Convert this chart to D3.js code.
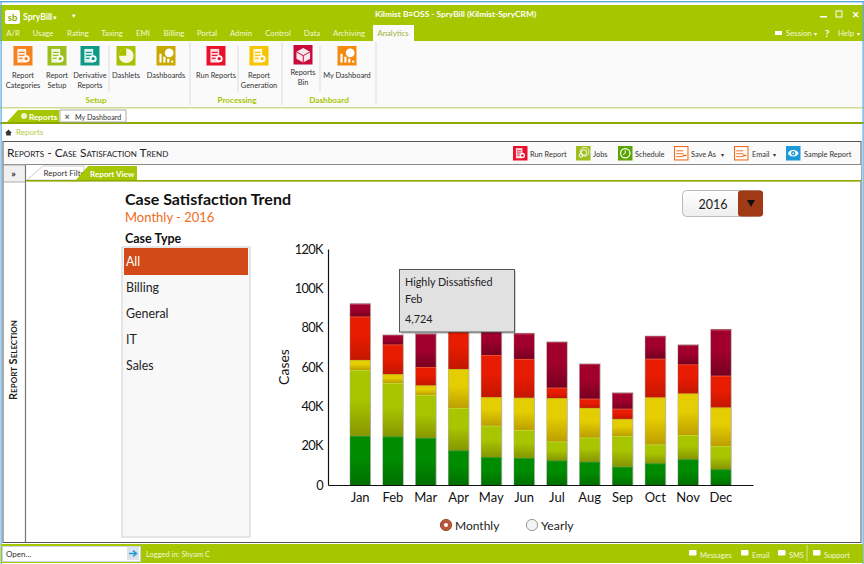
<!DOCTYPE html>
<html><head><meta charset="utf-8">
<style>html,body{margin:0;padding:0;background:#fff;overflow:hidden}svg{display:block}text{font-family:Lato,"Noto Sans",sans-serif}</style>
<script src="https://cdn.jsdelivr.net/npm/d3@7/dist/d3.min.js"></script>
</head><body><svg id="c" width="864" height="564" viewBox="0 0 864 564"></svg>
<script>
const months=["Jan","Feb","Mar","Apr","May","Jun","Jul","Aug","Sep","Oct","Nov","Dec"];
const seriesNames=["Highly Satisfied","Satisfied","Neutral","Dissatisfied","Highly Dissatisfied"];
const highlySatisfied=[25000,24700,24000,17600,14200,13800,12500,11900,9300,11000,13100,8000];
const satisfied=[33500,27200,21800,21600,16000,14200,9700,12300,15600,9700,12300,11800];
const neutral=[5100,4500,4900,19800,14500,16400,22000,15000,8700,23900,21200,19700];
const dissatisfied=[22100,15100,9300,22000,21400,19700,5300,4700,5200,19600,14800,16100];
const highlyDissatisfied=[6400,4724,16800,9000,16000,12900,23200,17600,8000,11400,9800,23400];
const yTicks=[0,20000,40000,60000,80000,100000,120000];
const caseTypes=["All","Billing","General","IT","Sales"];
const menuTabs=["A/R","Usage","Rating","Taxing","EMI","Billing","Portal","Admin","Control","Data","Archiving"];
const ribbonLabels=[["Report","Categories"],["Report","Setup"],["Derivative","Reports"],["Dashlets"],["Dashboards"],["Run Reports"],["Report","Generation"],["Reports","Bin"],["My Dashboard"]];
const ribbonGroups=["Setup","Processing","Dashboard"];
const toolbarLabels=["Run Report","Jobs","Schedule","Save As","Email","Sample Report"];
const statusLabels=["Messages","Email","SMS","Support"];

/* colours and chrome layout, kept apart from the content above */
const seriesColors=[["#008c00","#006f00","#2f9a2f"],["#a8c600","#879600","#c4d432"],["#e4cd00","#bd9f00","#c9b820"],["#e81c00","#c41600","#f04a30"],["#a2002c","#780020","#b83a58"]];
const menuX=[13,43,78,112,143,174,207,241,278,312,349];
const ribbonX=[23,57,90,126,166,216,259,303,347];
const ribbonColors=["#f58220","#9dbf1e","#0f9a86","#a8c000","#c9a800","#e8102a","#f7c400","#c80a3c","#f58a10"];
const ribbonGlyph=["doc","doc","doc","pie","chart","doc","doc","box","chart"];
const groupX=[96,237,329];
const toolIconX=[513,576,618,674,734,786];
const toolTextX=[530,593,635,691,752,804];
const toolColors=["#e8102a","#9dbf1e","#5aa500","#f26b1d","#f26b1d","#1e9ad6"];
const toolGlyph=["doc","arc","clock","save","save","eye"];
const statusX=[700,752,789,824];

const GREEN="#a6c600";
const svg=d3.select("#c");
const defs=svg.append("defs");
function rect(x,y,w,h,fill,stroke,rx,g){const r=(g||svg).append("rect").attr("x",x).attr("y",y).attr("width",w).attr("height",h).attr("fill",fill||"none");if(stroke)r.attr("stroke",stroke);if(rx)r.attr("rx",rx);return r;}
function text(t,x,y,size,fill,opt){opt=opt||{};const e=(opt.g||svg).append("text").attr("x",x).attr("y",y).attr("font-size",size).attr("fill",fill||"#222").text(t);if(opt.anchor)e.attr("text-anchor",opt.anchor);if(opt.bold)e.attr("font-weight","bold");if(opt.sc)e.style("font-variant","small-caps");return e;}
function line(x1,y1,x2,y2,c,w){return svg.append("line").attr("x1",x1).attr("y1",y1).attr("x2",x2).attr("y2",y2).attr("stroke",c).attr("stroke-width",w||1);}
function circ(x,y,r,fill,stroke,sw){const c=svg.append("circle").attr("cx",x).attr("cy",y).attr("r",r).attr("fill",fill||"none");if(stroke)c.attr("stroke",stroke).attr("stroke-width",sw||1);return c;}
function glyph(kind,x,y,s,col){ // x,y = top-left of the s-sized tile
  const cx=x+s/2,cy=y+s/2,u=s/20;
  if(kind==="doc"){rect(x+4*u,y+3*u,9*u,14*u,"#fff").attr("opacity",.85);[6,9,12].forEach(o=>rect(x+5.5*u,y+o*u,6*u,1.2*u,col));circ(x+13*u,y+13*u,3.6*u,"#fff");circ(x+13*u,y+13*u,1.7*u,col);}
  else if(kind==="pie"){circ(cx,cy,7.5*u,"#fff").attr("opacity",.9);svg.append("path").attr("d",`M${cx},${cy}L${cx},${cy-7.5*u}A${7.5*u},${7.5*u} 0 0 0 ${cx-7.5*u},${cy}Z`).attr("fill",col);}
  else if(kind==="chart"){circ(x+13*u,y+7*u,4.5*u,"#fff");[[3,9],[7,6],[11,4],[15,2]].forEach(b=>rect(x+b[0]*u,y+(17-b[1])*u,2.2*u,b[1]*u,"#fff"));}
  else if(kind==="box"){svg.append("path").attr("d",`M${cx},${y+3*u}L${x+17*u},${y+7*u}V${y+14*u}L${cx},${y+18*u}L${x+3*u},${y+14*u}V${y+7*u}Z`).attr("fill","#fff").attr("opacity",.9);svg.append("path").attr("d",`M${x+3*u},${y+7*u}L${cx},${y+11*u}L${x+17*u},${y+7*u}M${cx},${y+11*u}V${y+18*u}`).attr("stroke",col).attr("fill","none").attr("stroke-width",1);}
  else if(kind==="arc"){circ(x+7*u,y+13*u,2.5*u,"none","#fff",1);circ(x+11*u,y+9*u,3.8*u,"none","#fff",1);circ(x+12*u,y+8*u,6*u,"none","#fff",.8);}
  else if(kind==="clock"){circ(cx,cy,6.5*u,"none","#fff",1.3);svg.append("path").attr("d",`M${cx},${cy-4*u}V${cy}L${cx-3*u},${cy+2*u}`).attr("stroke","#fff").attr("fill","none");}
  else if(kind==="save"){rect(x+1.5*u,y+1.5*u,17*u,17*u,"#fff");[6,10,14].forEach(o=>rect(x+3*u,y+o*u,10*u,1.3*u,col));rect(x+12*u,y+12*u,5*u,2*u,col);}
  else if(kind==="eye"){svg.append("ellipse").attr("cx",cx).attr("cy",cy).attr("rx",7*u).attr("ry",4.5*u).attr("fill","#fff");circ(cx,cy,3*u,col);circ(cx,cy,1.2*u,"#fff");}
}

/* window chrome */
rect(0,0,864,564,"#fff");
rect(0,1,864,1.4,"#5aa8e0");
rect(0,5,864,36,GREEN);
rect(0,41,864,66,"#fafafa");
rect(0,107,864,1.5,"#cfdc8e");
rect(0,122,864,2,"#8fa800");
rect(0.5,1,1.2,563,"#5aa8e0");
rect(862.5,1,1.2,563,"#5aa8e0");
rect(5,10,15,14,"#fff",null,2);
text("sb",12.5,20.5,9.5,"#8fa800",{anchor:"middle",bold:true});
text("SpryBill",23,20,8.6,"#fff",{bold:true});
text("▾",53,20,7,"#fff");text("▾",72,18,7,"#fff");
text("Kilmist B≡OSS - SpryBill (Kilmist-SpryCRM)",375,17,8.4,"#fff",{bold:true});
rect(820,16,7,1.5,"#fff");rect(836,11,6,6,"none","#fff");
text("✕",852,18,9,"#fff",{bold:true});
menuTabs.forEach((t,i)=>text(t,menuX[i],36,7.8,"#f3f7d8",{anchor:"middle"}));
rect(373,25,41,17,"#fafafa");
text("Analytics",393,36,7.8,"#9cb23c",{anchor:"middle"});
rect(775,31,7,4,"#fff");
text("Session",786,36,7.8,"#f3f7d8");text("▾",814,36,6,"#fff");
text("?",827,37,10,"#fff",{anchor:"middle",bold:true});
text("Help",838,36,7.8,"#f3f7d8");text("▾",857,36,6,"#fff");

/* ribbon */
ribbonLabels.forEach((lab,i)=>{
  const bin=lab[0]==="Reports",iy=bin?45:46,x0=ribbonX[i];
  rect(x0-9.5,iy,19,19.5,ribbonColors[i]);
  glyph(ribbonGlyph[i],x0-9.5,iy,19.5,ribbonColors[i]);
  const ty=bin?75:78;
  lab.forEach((t,k)=>text(t,x0,ty+k*9.5,7.4,"#333",{anchor:"middle"}));
});
[[109,46,92],[190,42,105],[238,46,92],[282,42,105],[320,46,92],[376,42,105]].forEach(s=>line(s[0],s[1],s[0],s[2],"#dcdcdc"));
ribbonGroups.forEach((t,i)=>text(t,groupX[i],103,8.2,GREEN,{anchor:"middle",bold:true}));

/* document tabs */
svg.append("polygon").attr("points","7,122 18,110 59,110 59,122").attr("fill",GREEN);
text("Reports",29,119.5,8.2,"#fff",{bold:true});
circ(24,116,3,"#fff").attr("opacity",.8);
rect(60,110,66,12,"#fff","#aaa");
text("×",67,119.5,9,"#555",{anchor:"middle",bold:true});
text("My Dashboard",75,119.5,7.2,"#333");
svg.append("polygon").attr("points","5,133 8.5,129.5 12,133 10.8,133 10.8,135.5 6.2,135.5 6.2,133").attr("fill","#333");
text("Reports",16,135,8,"#b4cc48");

/* panel */
rect(3,141.5,858,401,"#fff","#555");
rect(4,142,856,22,"#fafafa");
line(3,164.5,861,164.5,"#8a8a8a");
text("Reports - Case Satisfaction Trend",7,157,11.9,"#222",{sc:true});
toolbarLabels.forEach((t,i)=>{
  rect(toolIconX[i],146,14.5,14.5,toolColors[i]);
  glyph(toolGlyph[i],toolIconX[i],146,14.5,toolColors[i]);
  text(t,toolTextX[i],157,7.4,"#333");
});
text("▾",721,156.5,6,"#333");text("▾",773,156.5,6,"#333");
rect(25,165,836,15,"#fff");
svg.append("polygon").attr("points","27,180 43,166 84,166 84,180").attr("fill","#fff").attr("stroke","#ccc");
text("Report Filter",43.5,176,8,"#333");
svg.append("polygon").attr("points","76,180 88,166 137,166 137,180").attr("fill",GREEN);
text("Report View",90,177,8,"#fff",{bold:true});
rect(25,180,836,1.6,"#8fa800");
rect(3.5,165,22,17,"#f0f0f0","#aaa");
text("»",13.5,177,10,"#333",{anchor:"middle",bold:true});
line(25.5,165,25.5,542,"#777",1.2);
text("Report Selection",0,0,11,"#222",{anchor:"middle",sc:true,bold:true}).attr("transform","translate(17,360) rotate(-90)");

/* heading & filter */
text("Case Satisfaction Trend",125,205,16,"#111",{bold:true});
text("Monthly - 2016",125,222,13,"#f26b1d");
text("Case Type",125,243,12.5,"#111",{bold:true});
rect(122,247,128,290,"#f8f8f8","#cfcfcf");
rect(124,248,124,27,"#d14a18");
caseTypes.forEach((t,i)=>text(t,126,i===0?266:292+(i-1)*26,12.4,i===0?"#fff":"#222"));

/* year picker */
const pg=defs.append("linearGradient").attr("id","pick").attr("x1",0).attr("x2",0).attr("y1",0).attr("y2",1);
pg.append("stop").attr("offset",0).attr("stop-color","#fff");pg.append("stop").attr("offset",1).attr("stop-color","#eee");
rect(682.5,190.5,80,26,"url(#pick)","#bbb",4);
rect(738,190.5,25,26,"#a03a14",null,3);
text("2016",713,209,12.5,"#222",{anchor:"middle"});
svg.append("polygon").attr("points","747,200 755,200 751,207").attr("fill","#111");

/* chart */
const x=d3.scaleBand().domain(months).range([328,753]).paddingInner(0.39).paddingOuter(0.675);
const y=d3.scaleLinear().domain([0,120000]).range([485,249]);
const rows=months.map((m,i)=>({month:m,"Highly Satisfied":highlySatisfied[i],"Satisfied":satisfied[i],"Neutral":neutral[i],"Dissatisfied":dissatisfied[i],"Highly Dissatisfied":highlyDissatisfied[i]}));
const stacked=d3.stack().keys(seriesNames)(rows);
seriesColors.forEach((c,i)=>{
  const g=defs.append("linearGradient").attr("id","g"+i).attr("x1",0).attr("x2",0).attr("y1",0).attr("y2",1);
  g.append("stop").attr("offset",0).attr("stop-color",c[0]);
  g.append("stop").attr("offset",.45).attr("stop-color",c[0]);
  g.append("stop").attr("offset",1).attr("stop-color",c[1]);
});
const plot=svg.append("g");
plot.selectAll("rect.sh").data(months).join("rect").attr("class","sh")
  .attr("x",d=>x(d)-0.5).attr("width",x.bandwidth()+1.4)
  .attr("y",(d,i)=>y(stacked[4][i][1])-0.7).attr("height",(d,i)=>y(0)-y(stacked[4][i][1])+0.7).attr("fill","#b9b2b2");
stacked.forEach((s,i)=>{
  plot.append("g").selectAll("rect").data(s).join("rect")
    .attr("x",d=>x(d.data.month)).attr("width",x.bandwidth())
    .attr("y",d=>y(d[1])).attr("height",d=>y(d[0])-y(d[1]))
    .attr("fill","url(#g"+i+")");
  plot.append("g").selectAll("line").data(s).join("line")
    .attr("x1",d=>x(d.data.month)).attr("x2",d=>x(d.data.month)+x.bandwidth())
    .attr("y1",d=>y(d[1])+0.5).attr("y2",d=>y(d[1])+0.5)
    .attr("stroke",seriesColors[i][2]).attr("stroke-width",1);
});
const ay=svg.append("g").attr("transform","translate(328,0)")
  .call(d3.axisLeft(y).tickValues(yTicks).tickSize(0).tickPadding(5).tickFormat(d=>d===0?"0":(d/1000)+"K"));
ay.selectAll("text").attr("font-size",12.8).attr("fill","#111").style("font-family","Lato").style("letter-spacing","-0.6px");
ay.select(".domain").attr("stroke","#111").attr("stroke-width",1.2);
const ax=svg.append("g").attr("transform","translate(0,485)")
  .call(d3.axisBottom(x).tickSize(0).tickPadding(8));
ax.selectAll("text").attr("font-size",13).attr("fill","#111").style("font-family","Lato");
ax.select(".domain").attr("stroke","#111").attr("stroke-width",1.2);
text("Cases",0,0,14,"#111",{anchor:"middle"}).attr("transform","translate(289,367) rotate(-90)");

/* tooltip */
rect(401,271,115,63,"#000").attr("opacity",.18);
rect(399.5,269.5,115,62.5,"#e1e1e1","#555");
text("Highly Dissatisfied",405,286,10.8,"#222");
text("Feb",405,303,10.8,"#222");
text("4,724",405,323,10.8,"#222");

/* radios */
circ(446,525,5.6,"#b8583a","#a04a30");
circ(446,525,2,"#fff");
text("Monthly",455,530,12,"#222");
circ(532,525,5.6,"#f4f4f4","#999");
text("Yearly",541,530,12.3,"#222");

/* status bar */
rect(1,544,862,19,GREEN);
rect(2.5,546.5,138,15,"#fff","#c8d6e6");
text("Open...",6,557,8,"#333");
rect(127,547,12,13,"#dde3ea");
svg.append("path").attr("d","M129,553.5H136M133,550.5L136.5,553.5L133,556.5").attr("stroke","#1e9ad6").attr("stroke-width",1.6).attr("fill","none");
text("Logged in:  Shyam C",146,557,7.5,"#f3f7d8");
statusLabels.forEach((t,i)=>{
  text(t,statusX[i],557.5,7.4,"#f3f7d8");
  rect(statusX[i]-11,550,7.5,5.5,"#fff",null,1);
});
line(807,545,807,561,"#d8e49a");
</script></body></html>
